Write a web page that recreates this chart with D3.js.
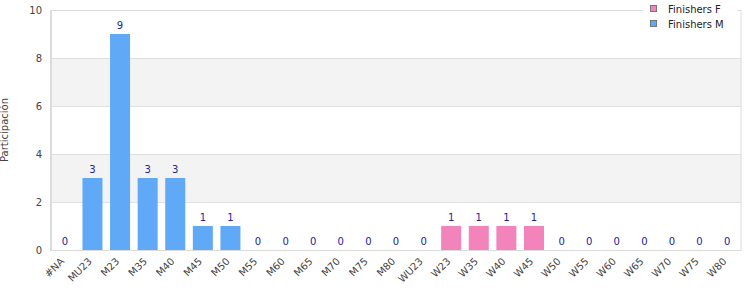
<!DOCTYPE html>
<html><head><meta charset="utf-8">
<script src="https://cdn.jsdelivr.net/npm/d3@7/dist/d3.min.js"></script>
<style>body{margin:0;background:#fff}svg{display:block;font-family:"DejaVu Sans",sans-serif}</style>
</head><body><svg id="c" width="750" height="300"></svg>
<script>
const categories = ["#NA","MU23","M23","M35","M40","M45","M50","M55","M60","M65","M70","M75","M80","WU23","W23","W35","W40","W45","W50","W55","W60","W65","W70","W75","W80"];
const finishersF = [0,0,0,0,0,0,0,0,0,0,0,0,0,0,1,1,1,1,0,0,0,0,0,0,0];
const finishersM = [0,3,9,3,3,1,1,0,0,0,0,0,0,0,0,0,0,0,0,0,0,0,0,0,0];
const yTicks = [0,2,4,6,8,10];
const seriesNames = ["Finishers F","Finishers M"];
const colors = ["#f283bb","#5fa9f6"];

const svg = d3.select("#c");
const L = 51, R = 741, T = 10, B = 250;
const x = d3.scaleBand().domain(categories).range([L, R]).paddingInner(0.275).paddingOuter(0.14);
const y = d3.scaleLinear().domain([0, 10]).range([B, T]);

// bands
for (let i = 0; i < yTicks.length - 1; i++) {
  if (i % 2 === 1) {
    svg.append("rect").attr("x", L).attr("width", R - L)
      .attr("y", y(yTicks[i + 1])).attr("height", y(yTicks[i]) - y(yTicks[i + 1]))
      .attr("fill", "#f3f3f3");
  }
}
// grid lines
svg.append("g").selectAll("line").data(yTicks.slice(1, -1)).join("line")
  .attr("x1", L).attr("x2", R).attr("y1", d => y(d) + 0.5).attr("y2", d => y(d) + 0.5)
  .attr("stroke", "#e0e0e0");
// border
svg.append("rect").attr("x", L - 0.5).attr("y", T + 0.5).attr("width", R - L + 0.5).attr("height", B - T)
  .attr("fill", "none").attr("stroke", "#dcdcdc");

// stacked bars
const rows = categories.map((c, i) => ({cat: c, F: finishersF[i], M: finishersM[i]}));
const stack = d3.stack().keys(["F", "M"])(rows);
svg.append("g").selectAll("g").data(stack).join("g").attr("fill", (d, i) => colors[i])
  .selectAll("rect").data(d => d).join("rect")
  .attr("x", d => x(d.data.cat)).attr("width", x.bandwidth())
  .attr("y", d => y(d[1])).attr("height", d => y(d[0]) - y(d[1]));

// value labels
svg.append("g").selectAll("text").data(rows).join("text")
  .attr("x", d => x(d.cat) + x.bandwidth() / 2)
  .attr("y", d => y(d.F + d.M) - 5)
  .attr("text-anchor", "middle").attr("font-size", 10).attr("fill", "#22229a")
  .text(d => d.F + d.M);

// y axis
const yAxis = svg.append("g").attr("transform", `translate(${L},0)`)
  .call(d3.axisLeft(y).tickValues(yTicks).tickSize(0).tickPadding(9));
yAxis.select(".domain").attr("stroke", "#dcdcdc");
yAxis.selectAll("text").attr("font-size", 10).attr("fill", "#444").attr("font-family", "DejaVu Sans");

// x axis
const xAxis = svg.append("g").attr("transform", `translate(0,${B})`)
  .call(d3.axisBottom(x).tickSize(0));
xAxis.select(".domain").attr("stroke", "#dcdcdc");
xAxis.selectAll("text").attr("font-size", 10).attr("fill", "#444").attr("font-family", "DejaVu Sans")
  .attr("text-anchor", "end").attr("dy", null).attr("y", 0)
  .attr("transform", "translate(0,12) rotate(-45)");

// y title
svg.append("text").attr("transform", "translate(8,130) rotate(-90)")
  .attr("text-anchor", "middle").attr("font-size", 10).attr("fill", "#444").text("Participación");

// legend
const lg = svg.append("g");
lg.append("rect").attr("x", 643).attr("y", 0).attr("width", 94).attr("height", 34).attr("fill", "#fff");
seriesNames.forEach((n, i) => {
  lg.append("rect").attr("x", 650.5).attr("y", 5.5 + i * 15).attr("width", 6).attr("height", 6)
    .attr("fill", colors[i]).attr("stroke", "#777");
  lg.append("text").attr("x", 668).attr("y", 12.5 + i * 15).attr("font-size", 10).attr("fill", "#222").text(n);
});
</script></body></html>
